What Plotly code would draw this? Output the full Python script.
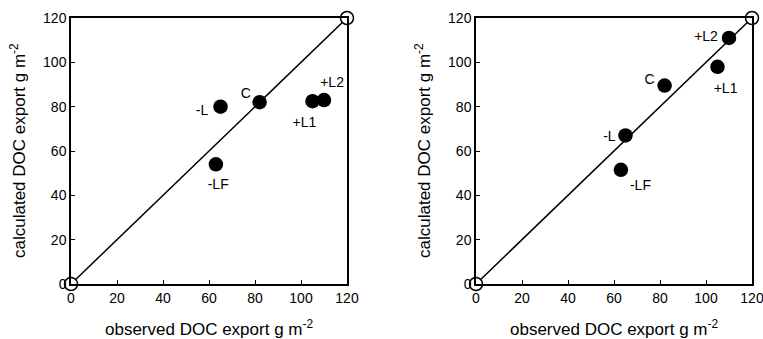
import plotly.graph_objects as go

labels = ["-L", "C", "-LF", "+L1", "+L2"]

left_obs = [65, 82, 63, 105, 110]
left_calc = [80, 82, 54, 82.5, 83]
left_lab_x = [57, 76, 64, 101.5, 113.5]
left_lab_y = [77.6, 85.6, 44.6, 72.6, 90.6]

right_obs = [65, 82, 63, 105, 110]
right_calc = [67, 89.5, 51.5, 98, 111]
right_lab_x = [58, 75.5, 71.5, 108.5, 100]
right_lab_y = [66.1, 91.6, 44.1, 87.6, 111.1]

ref_line = [0, 120]
ticks = [0, 20, 40, 60, 80, 100, 120]

x_title = "observed DOC export g m<sup>-2</sup>"
y_title = "calculated DOC export g m<sup>-2</sup>"

# body margin is removed by post_script; work directly in screen pixels
W, H = 763, 339
FONT = "Liberation Sans, Arial, sans-serif"


def px(xs):
    return xs / W


def py(ys):
    return 1 - ys / H


fig = go.Figure()

panels = [
    (left_obs, left_calc, left_lab_x, left_lab_y, "x", "y"),
    (right_obs, right_calc, right_lab_x, right_lab_y, "x2", "y2"),
]
for obs, calc, lx, ly, xa, ya in panels:
    fig.add_trace(go.Scatter(x=ref_line, y=ref_line, mode="lines",
                             line=dict(color="black", width=1.5),
                             xaxis=xa, yaxis=ya, showlegend=False, cliponaxis=False,
                             hoverinfo="skip"))
    fig.add_trace(go.Scatter(x=obs, y=calc, mode="markers",
                             marker=dict(color="black", size=14.5),
                             xaxis=xa, yaxis=ya, showlegend=False, cliponaxis=False,
                             hoverinfo="skip"))
    fig.add_trace(go.Scatter(x=ref_line, y=ref_line, mode="markers",
                             marker=dict(color="white", size=13,
                                         line=dict(color="black", width=1.5)),
                             xaxis=xa, yaxis=ya, showlegend=False, cliponaxis=False,
                             hoverinfo="skip"))
    fig.add_trace(go.Scatter(x=lx, y=ly, mode="text", text=labels,
                             textfont=dict(family=FONT, size=14, color="black"),
                             xaxis=xa, yaxis=ya, showlegend=False, cliponaxis=False,
                             hoverinfo="skip"))

panel_px = [(71, 347), (476, 752)]
top_px, bot_px = 18, 284
xdoms = [[px(a), px(b)] for a, b in panel_px]
ydom = [py(bot_px), py(top_px)]

axis_common = dict(range=[0, 120], tickvals=ticks, ticks="inside", ticklen=4,
                   tickwidth=1, tickcolor="black", showline=True, linecolor="black",
                   linewidth=1.5, mirror=True, showgrid=False, zeroline=False,
                   automargin=False, ticklabeloverflow="allow",
                   tickfont=dict(family=FONT, size=14, color="black"))

annotations = []
for a, b in panel_px:
    annotations.append(dict(text=x_title, xref="paper", yref="paper",
                            x=px((a + b) / 2), y=py(328), showarrow=False,
                            xanchor="center", yanchor="middle",
                            font=dict(family=FONT, size=17, color="black")))
    annotations.append(dict(text=y_title, xref="paper", yref="paper",
                            x=px(a - 53), y=py((top_px + bot_px) / 2), showarrow=False,
                            textangle=-90, xanchor="center", yanchor="middle",
                            font=dict(family=FONT, size=17, color="black")))

fig.update_layout(
    width=W, height=H,
    margin=dict(l=0, r=0, t=0, b=0),
    paper_bgcolor="white", plot_bgcolor="white",
    hovermode=False,
    xaxis=dict(domain=xdoms[0], anchor="y", **axis_common),
    yaxis=dict(domain=ydom, anchor="x", **axis_common),
    xaxis2=dict(domain=xdoms[1], anchor="y2", **axis_common),
    yaxis2=dict(domain=ydom, anchor="x2", **axis_common),
    annotations=annotations,
)

fig.write_html("out.html",
               config={"displayModeBar": False},
               post_script="document.body.style.margin='0';"
                           "document.body.style.overflow='hidden';")
